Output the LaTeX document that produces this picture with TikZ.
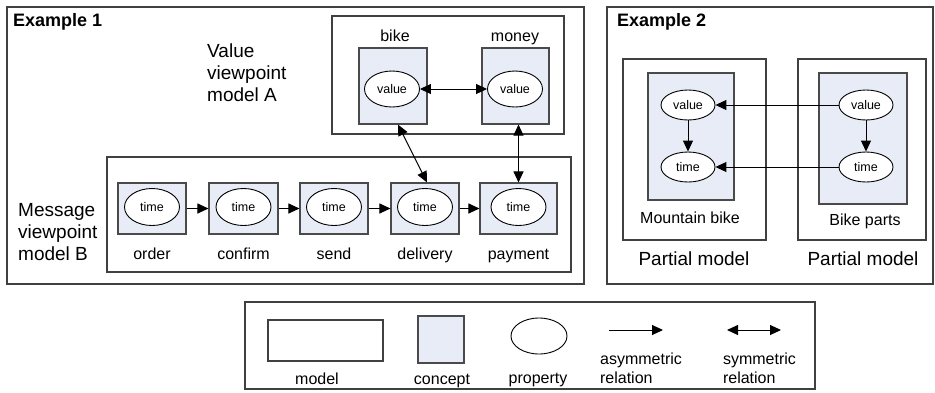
\documentclass[tikz,border=0pt]{standalone}
\usepackage{fontspec}
\setmainfont{Liberation Sans}
\usetikzlibrary{shapes.geometric,arrows.meta,calc}

\newcommand\lblhead{\fontsize{18}{21}\bfseries\selectfont}
\newcommand\lblbig{\fontsize{19}{22}\selectfont}
\newcommand\lblmid{\fontsize{16}{19}\selectfont}
\newcommand\lblsmall{\fontsize{12.5}{14}\selectfont}

\definecolor{boxgray}{HTML}{404040}
\definecolor{conceptedge}{HTML}{4A4A4A}
\definecolor{conceptfill}{HTML}{E7ECF6}

\tikzset{
  modelbox/.style={draw=boxgray, line width=1.3pt, fill=white, inner sep=0pt},
  conceptbox/.style={draw=conceptedge, line width=1.1pt, fill=conceptfill, inner sep=0pt},
  prop/.style={ellipse, draw=black, line width=0.9pt, fill=white, inner sep=0pt,
    minimum width=55pt, minimum height=36pt, font=\lblsmall},
  smallprop/.style={prop, minimum width=54pt, minimum height=30pt},
  txt/.style={inner sep=0pt, text=black},
  rel/.style={-{Triangle[length=11pt,width=10pt]}, line width=1pt, black},
  symrel/.style={{Triangle[length=11pt,width=10pt]}-{Triangle[length=11pt,width=10pt]}, line width=1pt, black},
}

\begin{document}
\begin{tikzpicture}[x=1pt,y=-1pt]
\useasboundingbox (0,0) rectangle (935,392);

% ---------------- Example 1 ----------------
\node[modelbox, minimum width=577pt, minimum height=277pt] (ex1) at (295.5,145.5) {};
\node[txt, anchor=west, font=\lblhead] (ex1title) at (13,22) {Example 1};

% value viewpoint model A
\node[modelbox, minimum width=232pt, minimum height=118pt] (modelA) at (448,75) {};
\node[txt, anchor=west, align=left, font=\lblbig] (modelAtext) at (207,73)
  {Value\\viewpoint\\model A};
\node[conceptbox, minimum width=68pt, minimum height=76pt] (bikeC) at (393,86) {};
\node[conceptbox, minimum width=67pt, minimum height=76pt] (moneyC) at (515.5,86) {};
\node[txt, font=\lblmid, anchor=base] (bikeL) at (395,41) {bike};
\node[txt, font=\lblmid, anchor=base] (moneyL) at (515,41) {money};
\node[prop] (bikeV) at (392,89) {value};
\node[prop] (moneyV) at (515,89) {value};

% message viewpoint model B
\node[modelbox, minimum width=464pt, minimum height=115pt] (modelB) at (339,214.5) {};
\node[txt, anchor=west, align=left, font=\lblbig] (modelBtext) at (18,232)
  {Message\\viewpoint\\model B};
\foreach \nm/\cx/\w/\lab in {order/152/68/order, confirm/243.5/69/confirm,
    send/334/68/send, deliv/425/68/delivery, pay/518.5/77/payment}{
  \node[conceptbox, minimum width=\w pt, minimum height=51pt] (\nm C) at (\cx,208.5) {};
  \node[prop, minimum height=37pt] (\nm T) at (\cx,207) {time};
  \node[txt, font=\lblmid, anchor=base] (\nm L) at (\cx,259.5) {\lab};
}

% relations of example 1
\draw[symrel] (bikeV) -- (moneyV);
\draw[rel] (orderC.east) -- (confirmC.west);
\draw[rel] (confirmC.east) -- (sendC.west);
\draw[rel] (sendC.east) -- (delivC.west);
\draw[rel] (delivC.east) -- (payC.west);
\draw[symrel] ([xshift=5pt]bikeC.south) -- ([xshift=2pt]delivC.north);
\draw[symrel] (moneyC.south -| payC.north) -- (payC.north);

% ---------------- Example 2 ----------------
\node[modelbox, minimum width=326pt, minimum height=277pt] (ex2) at (770,145.5) {};
\node[txt, anchor=west, font=\lblhead] (ex2title) at (617,22) {Example 2};

\node[modelbox, minimum width=143pt, minimum height=181pt] (partL) at (694.5,149.5) {};
\node[modelbox, minimum width=128pt, minimum height=181pt] (partR) at (862,149.5) {};
\node[conceptbox, minimum width=86pt, minimum height=127pt] (mtbC) at (691,136.5) {};
\node[conceptbox, minimum width=88pt, minimum height=131pt] (partsC) at (863,138.5) {};
\node[smallprop] (mtbV) at (688,105) {value};
\node[smallprop] (mtbT) at (688,167) {time};
\node[smallprop] (partsV) at (866,105) {value};
\node[smallprop] (partsT) at (866,167) {time};
\node[txt, font=\lblmid, anchor=base] (mtbL) at (690,223) {Mountain bike};
\node[txt, font=\lblmid, anchor=base] (partsL) at (865,225) {Bike parts};
\node[txt, font=\lblbig, anchor=base] (partLL) at (694,265) {Partial model};
\node[txt, font=\lblbig, anchor=base] (partRL) at (863,265) {Partial model};

\draw[rel] (mtbV) -- (mtbT);
\draw[rel] (partsV) -- (partsT);
\draw[rel] (partsV) -- (mtbV);
\draw[rel] (partsT) -- (mtbT);

% ---------------- Legend ----------------
\node[modelbox, minimum width=570pt, minimum height=87pt] (legend) at (530,345.5) {};
\node[modelbox, line width=1.1pt, minimum width=115pt, minimum height=41pt] (legModel) at (325.5,340.5) {};
\node[txt, font=\lblmid, anchor=base] (legModelL) at (317,384) {model};
\node[conceptbox, minimum width=46pt, minimum height=47pt] (legConcept) at (441,339.5) {};
\node[txt, font=\lblmid, anchor=base] (legConceptL) at (442,384) {concept};
\node[prop, minimum width=56pt] (legProp) at (539,336) {};
\node[txt, font=\lblmid, anchor=base] (legPropL) at (538,383) {property};

\coordinate (asymA) at (609,330);
\coordinate (asymB) at (663,330);
\draw[rel] (asymA) -- (asymB);
\node[txt, font=\lblmid, align=left] (asymL) at (641,368) {asymmetric\\relation};

\coordinate (symA) at (727,330);
\coordinate (symB) at (781,330);
\draw[symrel] (symA) -- (symB);
\node[txt, font=\lblmid, align=left] (symL) at (759.5,368) {symmetric\\relation};
\end{tikzpicture}
\end{document}
